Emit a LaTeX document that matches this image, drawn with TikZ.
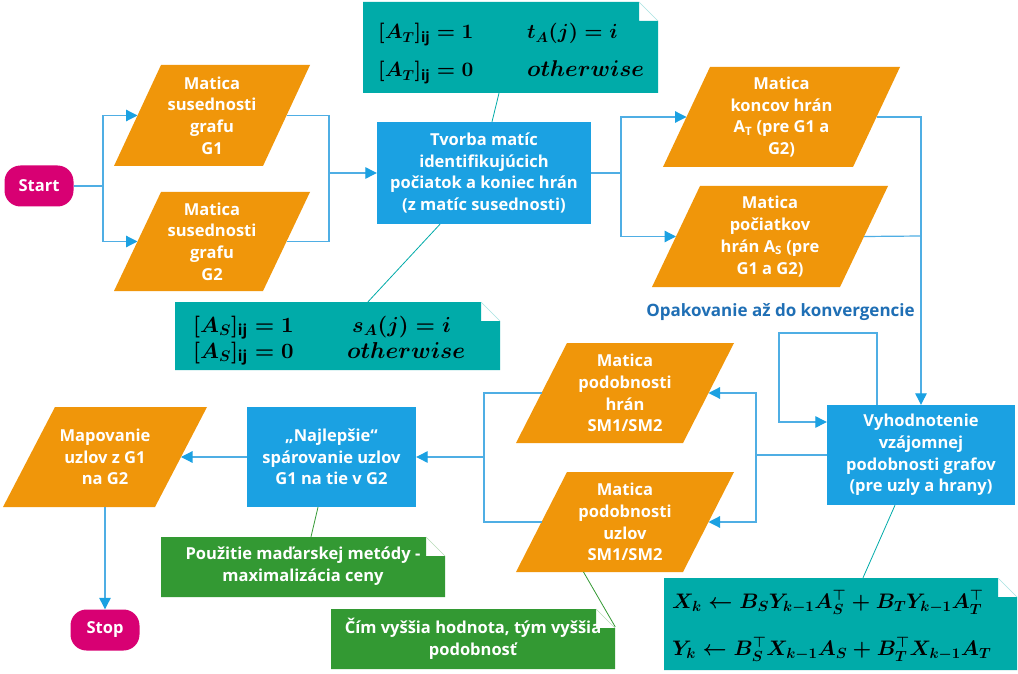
\documentclass[tikz,border=0pt]{standalone}
\usepackage{amsmath}
\usepackage[no-math]{fontspec}
\setmainfont{Open Sans}
\DeclareFontShape{OML}{cmm}{m}{it}{<->cmmi10}{}
\DeclareFontShape{OML}{cmm}{b}{it}{<->cmmib10}{}
\DeclareFontShape{OT1}{cmr}{bx}{n}{<->cmbx10}{}
\DeclareFontShape{OMS}{cmsy}{b}{n}{<->cmbsy10}{}
\usetikzlibrary{arrows.meta,calc}
\definecolor{orangeC}{HTML}{F0960A}
\definecolor{blueC}{HTML}{1BA1E2}
\definecolor{lineC}{HTML}{4FAEE4}
\definecolor{tealC}{HTML}{00ABA9}
\definecolor{greenC}{HTML}{339933}
\definecolor{magC}{HTML}{D80073}
\definecolor{lblC}{HTML}{1F6FB5}
\tikzset{
  txt/.style={text=white, font=\bfseries\fontsize{16.5}{21.7}\selectfont, align=center, inner sep=0pt},
  proc/.style={txt, fill=blueC},
  term/.style={txt, fill=magC, rounded corners=16pt, minimum width=69pt, minimum height=41pt},
  conn/.style={draw=lineC, line width=1.2pt},
  arr/.style={conn, -{Triangle[length=11.5pt,width=11.5pt,color=blueC]}},
  tlink/.style={draw=tealC, line width=0.8pt},
  glink/.style={draw=greenC, line width=0.8pt},
  mth/.style={inner sep=0pt, anchor=base west, text=black, font=\fontsize{#1}{26}\selectfont\boldmath},
  lbl/.style={text=lblC, font=\bfseries\fontsize{17}{20}\selectfont, inner sep=0pt}
}
% parallelogram: name, top-left x, top-right x, slant, top y, bottom y, text
\newcommand\pgram[7]{%
  \fill[orangeC] (#2,#5) -- (#3,#5) -- ({#3-#4},#6) -- ({#2-#4},#6) -- cycle;
  \coordinate (#1-w) at ({#2-#4/2},{(#5+#6)/2});
  \coordinate (#1-e) at ({#3-#4/2},{(#5+#6)/2});
  \coordinate (#1-s) at ({(#2+#3)/2-#4/2},#6);
  \node[txt] (#1) at ({(#2+#3)/2-#4/2},{(#5+#6)/2}) {#7};}
% note with folded corner: name, L, T, R, B, colour
\newcommand\notebox[6]{%
  \fill[#6] (#2,#3) -- ({#4-19},#3) -- ({#4-19},{#3+19}) -- (#4,{#3+19}) -- (#4,#5) -- (#2,#5) -- cycle;
  \draw[#6!35, line width=0.6pt] ({#4-19},#3) -- (#4,{#3+19});
  \node[inner sep=0pt, minimum width={(#4-#2)*1pt}, minimum height={(#5-#3)*1pt}] (#1) at ({(#2+#4)/2},{(#3+#5)/2}) {};}
\begin{document}
\begin{tikzpicture}[x=1pt,y=-1pt]
\useasboundingbox[fill=white] (0,0) rectangle (1018,674);

% terminals
\node[term] (start) at (39,186) {Start};
\node[term] (stop) at (105,630) {Stop};

% parallelograms
\pgram{g1}{161}{310}{47}{65}{166}{Matica\\susednosti\\grafu\\G1}
\pgram{g2}{161}{310}{47}{192}{291}{Matica\\susednosti\\grafu\\G2}
\pgram{at}{710}{900}{47}{67}{167}{Matica\\koncov hrán\\A\textsubscript{T} (pre G1 a\\G2)}
\pgram{as}{700}{888}{48}{186}{287}{Matica\\počiatkov\\hrán A\textsubscript{S} (pre\\G1 a G2)}
\pgram{smh}{567}{734}{51}{343}{443}{Matica\\podobnosti\\hrán\\SM1/SM2}
\pgram{smu}{567}{734}{51}{472}{572}{Matica\\podobnosti\\uzlov\\SM1/SM2}
\pgram{map}{55}{207}{52}{407}{507}{Mapovanie\\uzlov z G1\\na G2}

% process boxes
\node[proc, minimum width=214pt, minimum height=102pt] (tvorba) at (484,173)
  {Tvorba matíc\\identifikujúcich\\počiatok a koniec hrán\\(z matíc susednosti)};
\node[proc, minimum width=188pt, minimum height=100pt] (vyh) at (921,455)
  {Vyhodnotenie\\vzájomnej\\podobnosti grafov\\(pre uzly a hrany)};
\node[proc, minimum width=169pt, minimum height=100pt] (najl) at (331.5,457)
  {„Najlepšie“\\spárovanie uzlov\\G1 na tie v G2};

% notes
\notebox{noteA}{363}{2}{658}{93}{tealC}
\notebox{noteB}{175}{302}{500}{370}{tealC}
\notebox{noteC}{664}{578}{1017}{670}{tealC}
\notebox{green1}{161}{537}{445}{597}{greenC}
\notebox{green2}{331}{609}{615}{669}{greenC}

\node[mth=20.5] (a1) at (378,39) {$[A_T]_{\text{\bfseries ij}} = 1$};
\node[mth=20.5] (a2) at (527,39) {$t_A(j) = i$};
\node[mth=20.5] (a3) at (378,77) {$[A_T]_{\text{\bfseries ij}} = 0$};
\node[mth=22.8] (a4) at (527,77) {$otherwise$};

\node[mth=21.8] (b1) at (193,332) {$[A_S]_{\text{\bfseries ij}} = 1$};
\node[mth=21.8] (b2) at (352,332) {$s_A(j) = i$};
\node[mth=21.8] (b3) at (193,358) {$[A_S]_{\text{\bfseries ij}} = 0$};
\node[mth=23] (b4) at (347,358) {$otherwise$};

\node[mth=21] (c1) at (672,608) {$X_k \leftarrow B_S Y_{k-1} A_S^{\top} + B_T Y_{k-1} A_T^{\top}$};
\node[mth=21] (c2) at (672,655) {$Y_k \leftarrow B_S^{\top} X_{k-1} A_S + B_T^{\top} X_{k-1} A_T$};

\node[txt] (g1t) at (303,566.5) {Použitie maďarskej metódy -\\maximalizácia ceny};
\node[txt] (g2t) at (473,638.5) {Čím vyššia hodnota, tým vyššia\\podobnosť};

\node[lbl] (rep) at (780.5,312) {Opakovanie až do konvergencie};

% junction coordinates
\coordinate (j0) at (103,186);
\coordinate (j1) at (329,173);
\coordinate (j2) at (621,173);
\coordinate (j3) at (921,236);
\coordinate (l1) at (877,333);
\coordinate (l2) at (779,422);
\coordinate (j4) at (756,455);
\coordinate (j5) at (484,457);

% connectors
\draw[conn] (start.east) -- (j0);
\draw[arr] (j0) |- (g1-w);
\draw[arr] (j0) |- (g2-w);
\draw[conn] (g1-e) -| (j1) |- (g2-e);
\draw[arr] (j1) -- (tvorba.west);
\draw[conn] (tvorba.east) -- (j2);
\draw[arr] (j2) |- (at-w);
\draw[arr] (j2) |- (as-w);
\draw[conn] (at-e) -| (j3);
\draw[conn] (as-e) -- (j3);
\draw[arr] (j3) -- (vyh.north);
\draw[arr] (vyh.north -| l1) -- (l1) -| (l2) -- (l2 -| vyh.west);
\draw[conn] (vyh.west |- j4) -- (j4);
\draw[arr] (j4) |- (smh-e);
\draw[arr] (j4) |- (smu-e);
\draw[conn] (smh-w) -| (j5) |- (smu-w);
\draw[arr] (j5) -- (najl.east);
\draw[arr] (najl.west) -- (map-e);
\draw[arr] (map-s) -- (stop.north);

% note links
\draw[tlink] ([xshift=-11.5pt]noteA.south) -- ([xshift=8pt]tvorba.north);
\draw[tlink] ([xshift=-44pt]tvorba.south) -- ([xshift=30.5pt]noteB.north);
\draw[tlink] ([xshift=-26pt]vyh.south) -- ([xshift=22.5pt]noteC.north);
\draw[glink] ([xshift=-13.5pt]najl.south) -- ([xshift=8pt]green1.north);
\draw[glink] ([xshift=-41.5pt]smu-s) -- ([yshift=-18pt]green2.north east);
\end{tikzpicture}
\end{document}
